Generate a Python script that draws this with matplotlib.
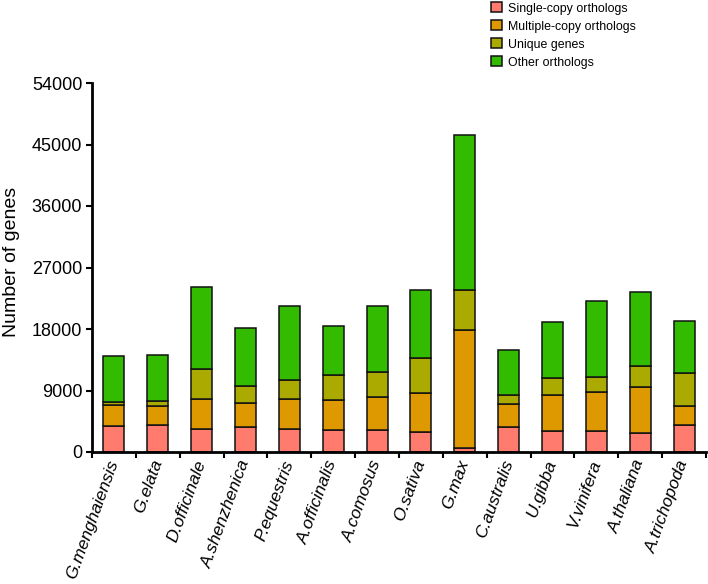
import matplotlib
matplotlib.use("Agg")
import matplotlib.pyplot as plt
from matplotlib.patches import Patch
import numpy as np

species = ["G.menghaiensis", "G.elata", "D.officinale", "A.shenzhenica", "P.equestris",
           "A.officinalis", "A.comosus", "O.sativa", "G.max", "C.australis",
           "U.gibba", "V.vinifera", "A.thaliana", "A.trichopoda"]
single_copy = [3780, 3880, 3340, 3730, 3340, 3290, 3250, 3000, 560, 3630, 3050, 3100, 2750, 3880]
multiple_copy = [3120, 2920, 4440, 3370, 4380, 4390, 4770, 5700, 17320, 3420, 5220, 5710, 6730, 2880]
unique_genes = [390, 630, 4330, 2630, 2840, 3610, 3660, 5020, 5790, 1360, 2530, 2140, 3080, 4770]
other_orthologs = [6830, 6790, 12000, 8440, 10770, 7220, 9710, 10010, 22780, 6590, 8290, 11110, 10920, 7610]
series_names = ["Single-copy orthologs", "Multiple-copy orthologs", "Unique genes", "Other orthologs"]
colors = ["#FF7B6E", "#DE9900", "#AAAA00", "#33BB00"]
yticks = [0, 9000, 18000, 27000, 36000, 45000, 54000]

plt.rcParams['font.family'] = ['Liberation Sans', 'DejaVu Sans']

fig = plt.figure(figsize=(7.08, 5.84), dpi=100)
ax = fig.add_axes([92/708, 1-452/584, (706-92)/708, (452-83)/584])

x = np.arange(len(species))
bottom = np.zeros(len(species))
for vals, col, name in zip([single_copy, multiple_copy, unique_genes, other_orthologs], colors, series_names):
    ax.bar(x, vals, width=0.48, bottom=bottom, color=col, edgecolor="#111111", linewidth=1.1, label=name)
    bottom += np.array(vals)

ax.set_xlim(-0.5, len(species) - 0.5)
ax.set_ylim(0, 54000)
ax.set_yticks(yticks)
ax.set_yticklabels([str(v) for v in yticks], fontsize=13)
ax.set_ylabel("Number of genes", fontsize=14)
ax.yaxis.set_label_coords(-0.118, 0.515)

ax.set_xticks(x)
ax.set_xticklabels(species, rotation=70, ha='right', va='center', rotation_mode='anchor',
                   fontsize=12.5, style='italic')
ax.tick_params(axis='x', which='major', length=0, pad=6)
ax.set_xticks(np.arange(-0.5, len(species), 1.0), minor=True)
ax.tick_params(axis='x', which='minor', length=4, width=1.5, direction='out')
ax.tick_params(axis='y', length=4, width=1.5, direction='out', pad=3)

for s in ['top', 'right']:
    ax.spines[s].set_visible(False)
for s in ['left', 'bottom']:
    ax.spines[s].set_linewidth(2)

handles = [Patch(facecolor=c, edgecolor="#111111", linewidth=1.1) for c in colors]
fig.legend(handles, series_names, loc='upper left', bbox_to_anchor=(490/708, 1 - 1/584),
           frameon=False, fontsize=8.9, handlelength=0.9, handleheight=0.9,
           labelspacing=0.45, handletextpad=0.45, borderaxespad=0, borderpad=0.1)

fig.savefig("out.png", dpi=100)
